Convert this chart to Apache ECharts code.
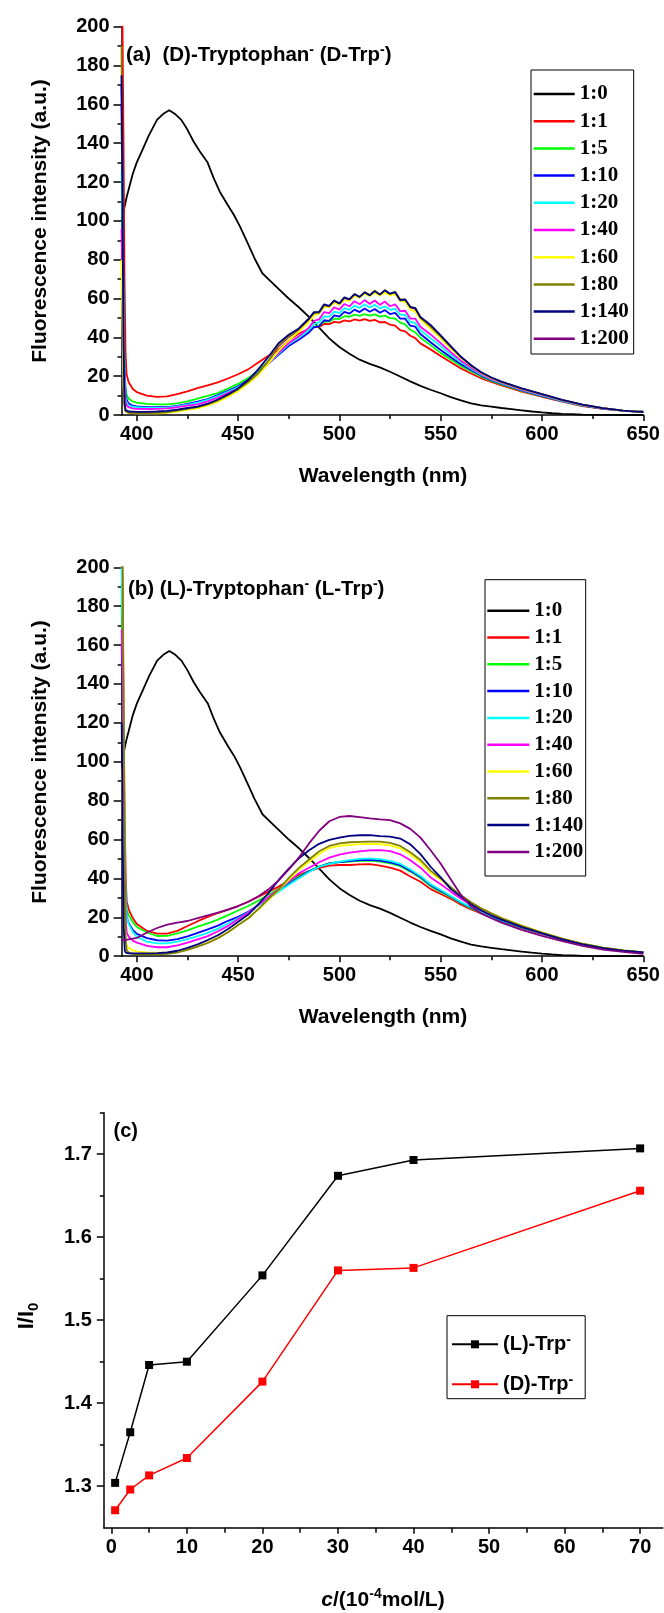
<!DOCTYPE html>
<html><head><meta charset="utf-8">
<script src="https://cdn.jsdelivr.net/npm/echarts@6/dist/echarts.min.js"></script>
<style>html,body{margin:0;padding:0;background:#fff}#c{width:664px;height:1613px}</style>
</head><body><div id="c"></div>
<script>
// ---------- DATA ----------
const ratioLabels = ['1:0','1:1','1:5','1:10','1:20','1:40','1:60','1:80','1:140','1:200'];
const ratioColors = ['#000000','#FF0000','#00FF00','#0000FF','#00FFFF','#FF00FF','#FFFF00','#808000','#000080','#800080'];

// free receptor (1:0) spectrum, same in (a) and (b)
const wavelengthBlack = [392.5,395,398,400,403,406,410,413,416,419,422,425,428,431,435,438,441,445,448,451,455,458,462,466,470,475,480,485,490,495,500,505,510,515,520,525,530,535,540,545,550,555,560,565,570,575,580,585,590,595,600,605,610,615,620,630,640,650];
const intensity_1_0 = [100,112,124,130,137,144,152,155,157,155,152,147,141,136,130,122,115,108,103,97,88,81,73,69,65,60,55.5,50.5,45,39.5,35,31.5,28.5,26.3,24.5,22.3,19.8,17.3,15,13,11.2,9.2,7.5,6,5,4.3,3.6,3,2.4,1.8,1.3,0.9,0.6,0.4,0.2,0.05,0,0];

// panel (a): D-Trp titration
const wavelengthA = [392.5,393,393.5,394,394.5,395,396,398,400,405,410,415,420,425,430,435,440,445,450,455,460,465,470,475,480,485,487.5,490,492.5,495,497.5,500,502.5,505,507.5,510,512.5,515,517.5,520,522.5,525,527.5,530,532.5,535,537.5,540,545,550,555,560,565,570,575,580,590,600,610,620,630,640,650];
const dTrp_1_1 = [230,200,140,70,32,21,17,13.5,11.8, 10,9.3,9.6,10.8,12.2,13.8,15.3,16.8,18.8,21,23.5,27,30.5,33.5,38.5,42,44.2, 45.4,45.4,46.9,46.8,48,47.6,48.7,48.2,49.2,48.6,49.4,48.5,49,47.7,47.9,46.5,46,43.7,43.1,40.8,39.6,36.9, 33.8,30.4,27.2,24,21.4,18.9,17,15.3, 12,9.4,6.9,4.6,3.2,2.2,1.7];
const dTrp_1_5 = [150,110,60,25,14,10.5,8.5,7,6.4, 5.7,5.5,5.5,6,7,8.4,9.8,11.3,13.6,16,19,23,27.5,32,36.5,40.3,43.5, 45.4,46,48,48.1,49.6,49.4,50.9,50.6,51.7,51.1,52,51.2,51.8,50.7,51.2,49.9,49.7,47.6,46.7,43.9,42.6,39.8, 36,32,28.6,25.3,22.5,19.8,17.6,15.8, 12.4,9.7,7.1,4.8,3.3,2.2,1.7];
const dTrp_1_10 = [170,130,70,25,11,8,6,4.8,4.4, 4.1,4,4,4.7,5.7,6.9,8.2,10.2,12.5,14.8,18,22,26.5,31,35.5,38.8,42.5, 45.2,45.7,48.8,48.5,51.3,50.7,53.1,52.2,54.3,53,54.8,53.2,54.6,52.7,54,52,52.6,49.7,49.6,46,45.5,41.7, 37.5,33.5,29.7,26.2,23.2,20.3,18,16.1, 12.7,9.9,7.2,4.9,3.3,2.3,1.7];
const dTrp_1_20 = [126,100,55,20,9,6.5,5,4.3,4, 3.7,3.7,3.8,4.4,5.3,6.4,7.8,9.7,12,14.3,17.5,21.8,26.5,31.5,36.5,39.8,44, 46.8,47.7,50.8,50.7,53.3,52.5,55,54.2,56.3,55.2,57,55.4,56.8,54.8,56,54.2,54.8,51.7,51.5,47.9,47.4,43.7, 39.5,35.5,31,27.2,23.8,20.8,18.3,16.4, 12.9,10.1,7.3,5,3.4,2.3,1.6];
const dTrp_1_40 = [96,70,40,15,7,5,4,3.4,3.2, 3.1,3.2,3.4,4,4.8,5.5,7,9,11.3,13.6,17,21.5,26.5,32,37,40.5,45, 48.5,49.2,53,52.5,55.5,54.3,57.2,56,58.6,57,59.2,57.2,59,56.7,58.4,56,57,53.5,53.7,49.7,49.6,45.5, 41.5,37,32.3,28,24.4,21.2,18.6,16.6, 13.1,10.3,7.5,5.1,3.4,2.3,1.6];
const dTrp_1_60 = [80,45,15,4,2,1.5,1.2,1,0.8, 0.8,0.9,1.1,1.8,2.6,3.4,4.8,6.8,9.3,12.4,16.2,20.6,26.5,33,38.5,42.9,48, 51.2,52.5,55.7,55.6,57.7,56.8,59.2,58.8,61.2,60.5,62.4,61.3,62.9,61.6,63,61.6,62.2,58.8,58.2,54.3,53.2,49.3, 44.5,39.5,34.2,29.3,25.2,21.7,19,16.9, 13.4,10.6,7.6,5.2,3.5,2.3,1.6];
const dTrp_1_80 = [190,120,40,6,2,1.5,1.2,1,1, 1,1.1,1.4,2.2,3.2,4,5.5,7.5,10.3,13.2,17,21.5,28,36,40.5,44.1,49.5, 52.8,52.6,56.5,56,58.8,57.4,60.5,59.5,62.3,60.8,63.3,61.8,64,62,64.2,62.3,63.5,59.5,59.5,55.5,55,50, 45.7,40.5,35,29.8,25.5,21.9,19.2,17.1, 13.6,10.7,7.7,5.3,3.5,2.3,1.5];
const dTrp_1_140 = [175,110,35,6,2.5,2,1.8,1.7,1.6, 1.6,1.8,2.1,2.8,3.6,4.3,5.8,8,10.6,13.7,18,23.5,30,37,41.3,44.6,49.7, 53,53.1,57,56.2,59,57.4,60.6,59.6,62.3,60.8,63.2,61.6,63.8,62,64.3,62.5,63.3,59.1,59.5,55.7,55,50.5, 46.4,41,35.5,30,25.6,22,19.3,17.2, 13.7,10.8,7.8,5.3,3.5,2.3,1.5];
const dTrp_1_200 = [160,100,30,5,2,1.5,1.2,1,1, 1,1.1,1.4,2.2,3.1,3.9,5.4,7.4,10.1,13,16.8,21.3,27.6,35.5,40.2,43.8,49.2, 52.5,52.4,56.2,55.8,58.5,57.2,60.2,59.3,62,60.6,63,61.6,63.7,61.8,63.9,62.1,63.2,59.3,59.2,55.3,54.7,49.8, 45.4,40.3,34.8,29.6,25.4,21.8,19.1,17, 13.5,10.6,7.6,5.2,3.5,2.3,1.5];

// panel (b): L-Trp titration
const wavelengthB = [392.5,393,393.5,394,394.5,395,396,398,400,405,410,415,420,425,430,435,440,445,450,455,460,465,470,475,480,485,490,495,500,505,510,515,520,525,530,535,540,545,550,555,560,565,570,575,580,590,600,610,620,630,640,650];
const lTrp_1_1 = [220,180,120,70,40,28,24,19.5,16.5, 13,11.6,11.6,13,15.5,18,20.2,22.2,24,25.8,28,30.6,33.2,35.8,38.8,41.9,43.8,45.4,46.6,46.9,46.9,47.2,47.4,46.6,45.5,44,41,38.3,34.5,32,29.5,26.5,24,22,20,18, 14.5,11.5,8.6,6.2,4.3,2.8,1.8];
const lTrp_1_5 = [190,150,90,45,30,24,21,17.5,15, 12.2,10.4,10.5,11.7,13.3,15.2,16.9,18.8,21.1,23.5,25.8,28.6,31.6,34.7,37.8,41,43.8,46.2,47.8,48.4,48.6,49,49.1,48.7,47.8,46.3,43.5,40.2,36,33,30.3,27.2,24.6,22.4,20.3,18.3, 14.7,11.6,8.7,6.2,4.3,2.9,1.9];
const lTrp_1_10 = [160,120,70,38,26,20,17,13.5,11.5, 9.3,8.2,8,8.8,10.2,12,13.8,15.7,18.2,20.2,22.8,26.3,29.8,33.5,37.2,40.5,43.7,46,47.7,48.4,48.9,49.4,49.5,49.1,48.3,46.8,44,40.8,36.5,33.5,30.7,27.5,24.9,22.6,20.4,18.4, 14.8,11.7,8.8,6.3,4.3,2.9,1.9];
const lTrp_1_20 = [200,170,110,55,28,20,16.5,12.5,10, 7.5,6.6,6.6,7.5,8.8,10.3,12,14.2,16.8,19.5,22.5,26.2,29.8,33.2,36.8,40.1,43.3,46,47.5,48.6,49.4,50.1,50.3,49.9,49,47.5,44.6,41.3,37,34,31,27.8,25.2,22.8,20.6,18.6, 14.9,11.8,8.9,6.3,4.3,2.9,1.9];
const lTrp_1_40 = [168,140,90,40,18,12,10,8,7, 5.3,4.6,4.6,5.6,7,8.7,10.3,12.8,15.6,19,22.4,26.4,30.5,34.5,38.5,42.7,45.5,48.3,50.7,52.2,53.3,53.9,54.4,54.6,54,52.4,49.3,45.5,40.5,37,33.2,29.5,26.3,23.6,21.2,19, 15.2,11.9,8.9,6.3,4.3,2.9,1.9];
const lTrp_1_60 = [97,70,40,18,8,5.5,4.3,3,2.4, 2,1.8,1.9,2.4,3.6,5,7,9.4,12.3,16,19.5,24,29,34,39.3,44.5,48.6,52.6,55.6,56.8,57.3,57.6,57.8,57.7,57,55.5,52.3,48.3,43,39.3,35,31,27.5,24.5,22,19.7, 15.7,12.2,9.1,6.5,4.4,3,2];
const lTrp_1_80 = [230,200,120,40,8,3,1.8,1.2,1, 0.9,0.9,1.2,1.9,3.3,4.9,6.8,9.3,12.3,16,19.5,24.3,29.5,34.2,40.3,45.4,49.7,54,56.7,58,58.6,58.8,58.9,58.9,58.3,56.7,53.5,49.5,44,40,35.5,31.3,27.7,24.6,22,19.6, 15.6,12.1,9,6.4,4.4,3,2];
const lTrp_1_140 = [120,60,15,3,1.8,1.6,1.5,1.5,1.5, 1.5,1.6,1.9,2.8,4.3,6.1,8.3,10.8,14,17.7,21.4,26.8,32.5,39.2,45,50.3,54.5,57.8,59.8,61,61.9,62.2,62.3,61.8,61.5,60.5,57.5,52.5,46,40.5,34.5,30.5,26.7,23.5,20.9,18.8, 15,11.8,8.7,6.1,4.1,2.8,1.9];
const lTrp_1_200 = [8.3,8.3,8.3,8.4,8.4,8.5,8.7,9,9.4, 12.2,14.5,16.2,17.3,18.1,19.6,21,22.4,24,25.8,28,30.8,34.4,39,44.6,50.8,58,64.5,69.4,71.6,72.1,71.5,70.9,70.4,70,68.3,65.5,61,54.5,47.5,39.5,31.5,25.5,22,19.5,17.3, 13.5,10.5,7.7,5.3,3.4,2.2,1.2];

// panel (c): I/I0 vs concentration
const concentration = [0.5,2.5,5,10,20,30,40,70];
const ratio_L = [1.304,1.365,1.446,1.450,1.554,1.674,1.693,1.707];
const ratio_D = [1.271,1.296,1.313,1.334,1.426,1.560,1.563,1.656];

// tick values
const wlMajor = [400,450,500,550,600,650];
const wlMinor = [425,475,525,575,625];
const intMajor = [0,20,40,60,80,100,120,140,160,180,200];
const intMinor = [10,30,50,70,90,110,130,150,170,190];
const cMajor = [0,10,20,30,40,50,60,70];
const cMinor = [5,15,25,35,45,55,65];
const rMajor = [1.3,1.4,1.5,1.6,1.7];
const rMinor = [1.35,1.45,1.55,1.65,1.75];

// ---------- CHART ----------
const SANS = '"Liberation Sans", Arial, sans-serif';
const SERIF = '"Liberation Serif", "Times New Roman", serif';
const chart = echarts.init(document.getElementById('c'), null, {renderer: 'canvas', width: 664, height: 1613});

const lineBlack = {color: '#000', width: 1.5};
const tickLabel = {color: '#000', fontSize: 20, fontWeight: 'bold', fontFamily: SANS};

function axisPair(dim, g, min, max, major, minor, majorLen, minorLen, margin) {
  const pos = dim === 'x' ? 'bottom' : 'left';
  return [
    {type: 'value', gridIndex: g, min: min, max: max, position: pos,
     axisLine: {show: true, onZero: false, lineStyle: lineBlack},
     axisTick: {show: true, customValues: major, length: majorLen, lineStyle: lineBlack},
     axisLabel: Object.assign({show: true, customValues: major, margin: margin}, tickLabel),
     splitLine: {show: false}},
    {type: 'value', gridIndex: g, min: min, max: max, position: pos,
     axisLine: {show: false, onZero: false},
     axisTick: {show: true, customValues: minor, length: minorLen, lineStyle: lineBlack},
     axisLabel: {show: false},
     splitLine: {show: false}}
  ];
}

const xAxes = [].concat(
  axisPair('x', 0, 392.5, 650, wlMajor, wlMinor, 6, 4, 9),
  axisPair('x', 1, 392.5, 650, wlMajor, wlMinor, 6, 4, 9),
  axisPair('x', 2, -1, 73, cMajor, cMinor, 6, 5, 10)
);
const yAxes = [].concat(
  axisPair('y', 0, 0, 200, intMajor, intMinor, 8, 4, 12),
  axisPair('y', 1, 0, 200, intMajor, intMinor, 8, 4, 12),
  axisPair('y', 2, 1.25, 1.75, rMajor, rMinor, 7, 4, 12)
);

function pairs(xs, ys) { return xs.map((x, i) => [x, ys[i]]); }

const seriesA = [intensity_1_0, dTrp_1_1, dTrp_1_5, dTrp_1_10, dTrp_1_20, dTrp_1_40, dTrp_1_60, dTrp_1_80, dTrp_1_140, dTrp_1_200];
const seriesB = [intensity_1_0, lTrp_1_1, lTrp_1_5, lTrp_1_10, lTrp_1_20, lTrp_1_40, lTrp_1_60, lTrp_1_80, lTrp_1_140, lTrp_1_200];

const series = [];
seriesA.forEach((vals, i) => {
  series.push({
    type: 'line', name: ratioLabels[i], xAxisIndex: 0, yAxisIndex: 0,
    data: pairs(i === 0 ? wavelengthBlack : wavelengthA, vals),
    symbol: 'none', color: ratioColors[i],
    lineStyle: {color: ratioColors[i], width: 1.8},
    z: i === 9 ? 1 : 2 + i * 0.01, animation: false
  });
});
seriesB.forEach((vals, i) => {
  series.push({
    type: 'line', name: ratioLabels[i], xAxisIndex: 2, yAxisIndex: 2,
    data: pairs(i === 0 ? wavelengthBlack : wavelengthB, vals),
    symbol: 'none', color: ratioColors[i],
    lineStyle: {color: ratioColors[i], width: 1.8},
    z: 2 + i * 0.01, animation: false
  });
});
series.push({
  type: 'line', name: '(L)-Trp', xAxisIndex: 4, yAxisIndex: 4,
  data: pairs(concentration, ratio_L), symbol: 'rect', symbolSize: 8,
  color: '#000000', itemStyle: {color: '#000000'},
  lineStyle: {color: '#000000', width: 1.5}, animation: false
});
series.push({
  type: 'line', name: '(D)-Trp', xAxisIndex: 4, yAxisIndex: 4,
  data: pairs(concentration, ratio_D), symbol: 'rect', symbolSize: 8,
  color: '#FF0000', itemStyle: {color: '#FF0000'},
  lineStyle: {color: '#FF0000', width: 1.5}, animation: false
});

const legendText = {fontFamily: SERIF, fontWeight: 'bold', fontSize: 21, lineHeight: 21, color: '#000'};

const supRich = {
  t: {fontFamily: SANS, fontWeight: 'bold', fontSize: 20.5, lineHeight: 24, fill: '#000'},
  s: {fontFamily: SANS, fontWeight: 'bold', fontSize: 14, lineHeight: 14, verticalAlign: 'top', fill: '#000'}
};

const option = {
  backgroundColor: '#ffffff',
  animation: false,
  grid: [
    {left: 121.5, top: 26.7, width: 521.8, height: 388.3, containLabel: false},
    {left: 121.7, top: 567.3, width: 521.6, height: 388.9, containLabel: false},
    {left: 103.8, top: 1112.7, width: 559, height: 415, containLabel: false}
  ],
  xAxis: xAxes,
  yAxis: yAxes,
  legend: [
    {orient: 'vertical', left: 531, top: 70, data: ratioLabels, selectedMode: false, icon: 'rect',
     itemWidth: 41, itemHeight: 2.5, itemGap: 6.2, padding: [13.5, 5, 4.7, 2.7],
     borderColor: '#000', borderWidth: 1, textStyle: legendText},
    {orient: 'vertical', left: 485, top: 579.7, data: ratioLabels, selectedMode: false, icon: 'rect',
     itemWidth: 42, itemHeight: 2.5, itemGap: 5.8, padding: [20.5, 2.4, 13.6, 2.3],
     borderColor: '#000', borderWidth: 1, textStyle: legendText},
    {orient: 'vertical', left: 447, top: 1315.7, data: ['(L)-Trp', '(D)-Trp'], selectedMode: false,
     itemWidth: 46, itemHeight: 10, itemGap: 18, padding: [17.6, 12, 3.4, 4],
     borderColor: '#000', borderWidth: 1,
     formatter: name => name + '{s|-}',
     textStyle: {fontFamily: SANS, fontWeight: 'bold', fontSize: 20, lineHeight: 22, color: '#000',
       rich: {s: {fontFamily: SANS, fontWeight: 'bold', fontSize: 14, lineHeight: 12, verticalAlign: 'top', color: '#000'}}}}
  ],
  graphic: [
    {type: 'text', x: 126, y: 55, style: {text: '{t|(a)  (D)-Tryptophan}{s|-}{t| (D-Trp}{s|-}{t|)}', rich: supRich, align: 'left', verticalAlign: 'middle'}},
    {type: 'text', x: 128, y: 589, style: {text: '{t|(b) (L)-Tryptophan}{s|-}{t| (L-Trp}{s|-}{t|)}', rich: supRich, align: 'left', verticalAlign: 'middle'}},
    {type: 'text', x: 113.5, y: 1131.7, style: {text: '(c)', font: 'bold 20px ' + SANS, fill: '#000', align: 'left', verticalAlign: 'middle'}},
    {type: 'text', x: 383, y: 476.7, style: {text: 'Wavelength (nm)', font: 'bold 21px ' + SANS, fill: '#000', align: 'center', verticalAlign: 'middle'}},
    {type: 'text', x: 383, y: 1017, style: {text: 'Wavelength (nm)', font: 'bold 21px ' + SANS, fill: '#000', align: 'center', verticalAlign: 'middle'}},
    {type: 'text', x: 40, y: 221, rotation: Math.PI / 2, style: {text: 'Fluorescence intensity (a.u.)', font: 'bold 21px ' + SANS, fill: '#000', align: 'center', verticalAlign: 'middle'}},
    {type: 'text', x: 40, y: 762, rotation: Math.PI / 2, style: {text: 'Fluorescence intensity (a.u.)', font: 'bold 21px ' + SANS, fill: '#000', align: 'center', verticalAlign: 'middle'}},
    {type: 'text', x: 27, y: 1316, rotation: Math.PI / 2, style: {text: '{t|I/I}{b|0}', align: 'center', verticalAlign: 'middle',
      rich: {t: {fontFamily: SANS, fontWeight: 'bold', fontSize: 22, lineHeight: 28, fill: '#000'},
             b: {fontFamily: SANS, fontWeight: 'bold', fontSize: 15, lineHeight: 15, verticalAlign: 'bottom', fill: '#000'}}}},
    {type: 'text', x: 383, y: 1600, style: {text: '{i|c}{t|/(10}{s|-4}{t|mol/L)}', align: 'center', verticalAlign: 'middle',
      rich: {t: {fontFamily: SANS, fontWeight: 'bold', fontSize: 21, lineHeight: 25, fill: '#000'},
             i: {fontFamily: SANS, fontWeight: 'bold', fontStyle: 'italic', fontSize: 21, lineHeight: 25, fill: '#000'},
             s: {fontFamily: SANS, fontWeight: 'bold', fontSize: 14, lineHeight: 14, verticalAlign: 'top', fill: '#000'}}}}
  ],
  series: series
};
chart.setOption(option);
</script>
</body></html>
